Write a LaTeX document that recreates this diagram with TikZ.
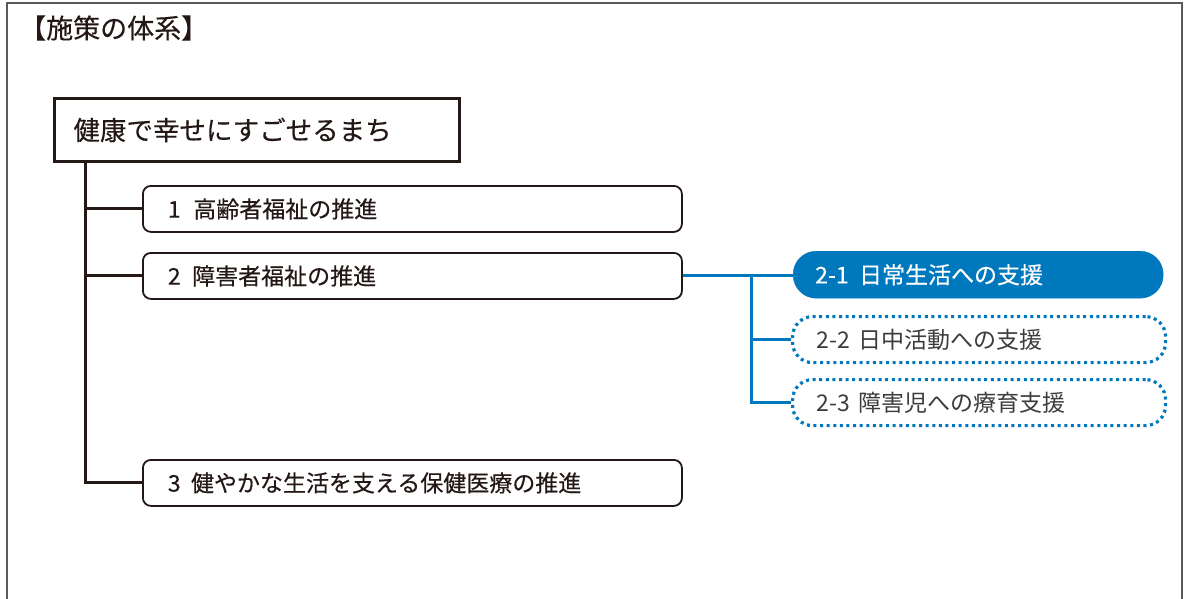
\documentclass[tikz,border=0pt]{standalone}
\usepackage{fontspec}
\setmainfont{Noto Sans CJK JP}
\newfontfamily\medjp{Noto Sans CJK JP}[FakeBold=0.35]
\definecolor{ink}{RGB}{35,24,21}
\definecolor{sblue}{RGB}{0,120,190}
\definecolor{frame}{RGB}{90,90,90}
\definecolor{soft}{RGB}{60,60,60}
\tikzset{
  lv1/.style={draw=ink, line width=1.8pt, rounded corners=8pt, fill=white, anchor=north west,
    inner xsep=25pt, inner ysep=0pt, text width=489pt, align=left, minimum height=46pt,
    font=\medjp\fontsize{23}{26}\selectfont, text=ink},
  subfill/.style={fill=sblue, draw=sblue, rounded corners=23pt, anchor=north west,
    inner xsep=22pt, inner ysep=0pt, text width=326pt, align=left, minimum height=47pt,
    font=\medjp\fontsize{23}{26}\selectfont, text=white},
  subdot/.style={draw=sblue, line width=3.2pt, dash pattern=on 3pt off 3.6pt, rounded corners=20pt,
    anchor=north west, inner xsep=24pt, inner ysep=0pt, text width=325pt, align=left,
    minimum height=46pt, font=\fontsize{23}{26}\selectfont, text=soft},
  blk/.style={draw=ink, line width=3pt},
  blu/.style={draw=sblue, line width=3pt},
}
\begin{document}
\begin{tikzpicture}[x=1pt,y=-1pt]
\useasboundingbox (0,0) rectangle (1184,598);
\draw[frame, line width=1.5pt] (7,610) -- (7,3) -- (1182,3) -- (1182,610);
\node[anchor=west, inner sep=0pt, font=\medjp\fontsize{27}{30}\selectfont, text=ink] (title) at (19,28) {【施策の体系】};
\node[draw=ink, line width=3pt, anchor=north west, inner xsep=19pt, inner ysep=0pt,
  text width=367pt, align=left, minimum height=63pt, font=\medjp\fontsize{26.5}{30}\selectfont, text=ink]
  (main) at (53,97) {健康で幸せにすごせるまち};
\node[lv1] (b1) at (142,185) {1\hspace{0.55em}高齢者福祉の推進};
\node[lv1] (b2) at (142,252) {2\hspace{0.5em}障害者福祉の推進};
\node[lv1] (b3) at (142,459) {3\hspace{0.45em}健やかな生活を支える保健医療の推進};
\node[subfill] (s1) at (793,251) {2-1\hspace{0.45em}日常生活への支援};
\node[subdot] (s2) at (791,315) {2-2\hspace{0.35em}日中活動への支援};
\node[subdot] (s3) at (791,378) {2-3\hspace{0.35em}障害児への療育支援};
\coordinate (t) at ([xshift=32pt]main.south west);
\draw[blk] (t) |- (b3.west);
\draw[blk] (t |- b1.west) -- (b1.west);
\draw[blk] (t |- b2.west) -- (b2.west);
\coordinate (bv) at (751,275);
\draw[blu] (b2.east) -- (b2.east -| s1.west);
\draw[blu] (bv) |- (s3.west);
\draw[blu] (bv |- s2.west) -- (s2.west);
\end{tikzpicture}
\end{document}
